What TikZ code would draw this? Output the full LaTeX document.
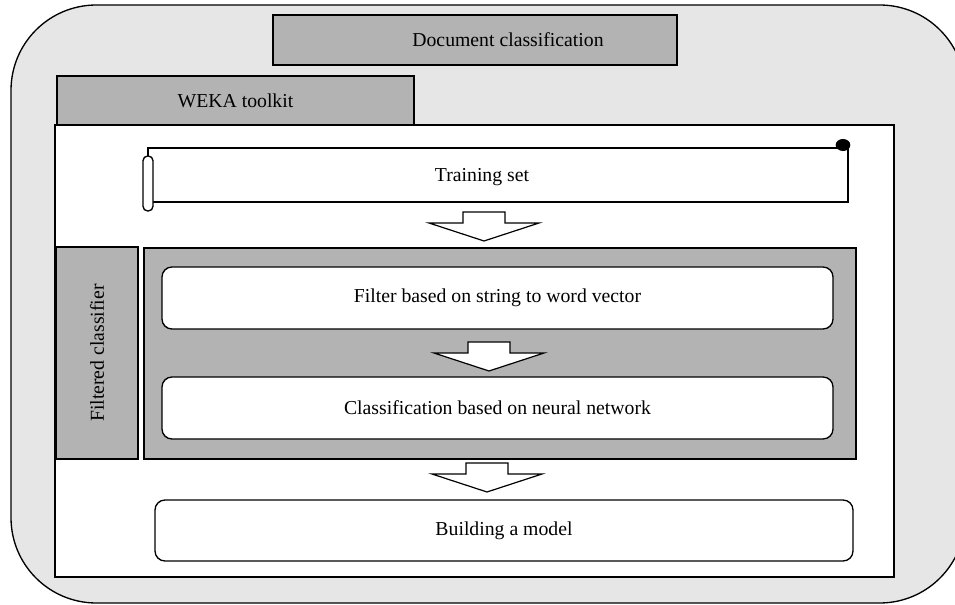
\documentclass[tikz,border=0pt]{standalone}
\usepackage{fontspec}
\setmainfont{Liberation Serif}
\usetikzlibrary{calc}
\definecolor{bggray}{HTML}{E6E6E6}
\definecolor{boxgray}{HTML}{B3B3B3}
\tikzset{
  greybox/.style={draw=black, line width=1pt, fill=boxgray, inner sep=0pt, font=\fontsize{14.8}{17}\selectfont},
  whitebox/.style={draw=black, line width=1pt, fill=white, rounded corners=7.5pt, inner sep=0pt, font=\fontsize{14.8}{17}\selectfont},
  plainbox/.style={draw=black, line width=1pt, fill=white, inner sep=0pt},
  lbl/.style={inner sep=0pt, font=\fontsize{14.8}{17}\selectfont},
  blockarrow/.pic={
    \draw[line width=0.9pt, fill=white, line join=miter]
      (-21,0) -- (21,0) -- (21,11) -- (55,11) -- (0,29) -- (-55,11) -- (-21,11) -- cycle;
  }
}
\begin{document}
\begin{tikzpicture}[x=0.75pt,y=-0.75pt]
\useasboundingbox (0,0) rectangle (955,605);
\clip (0,0) rectangle (955,605);
% outer rounded frame
\draw[line width=1pt, fill=bggray, rounded corners=64pt] (11,5) rectangle (965,603);
% top boxes
\node[greybox, minimum width=303pt, minimum height=37.5pt] (doc) at (475,40) {};
\node[lbl] (doclbl) at (508,40) {Document classification};
\node[greybox, minimum width=267.75pt, minimum height=36.75pt] (weka) at (235.5,100.5) {WEKA toolkit};
% main white panel
\node[plainbox, minimum width=629.25pt, minimum height=339pt] (panel) at (474.5,351) {};
% training set scroll
\draw[line width=1pt, fill=white] (148,156) -- (148,148) -- (848,148) -- (848,202) -- (150,202);
\draw[line width=1pt, fill=white, rounded corners=3.5pt] (143,156) rectangle (153,211);
\fill (843,145) ellipse [x radius=5.5pt, y radius=4.5pt];
\node[lbl] (train) at (482,177) {Training set};
% filtered classifier
\node[greybox, minimum width=61.5pt, minimum height=159pt] (filt) at (97,353) {};
\node[lbl, rotate=90] (filtlbl) at (97,353) {Filtered classifier};
\node[greybox, minimum width=534pt, minimum height=158.25pt] (inner) at (500,353.5) {};
\node[whitebox, minimum width=503.25pt, minimum height=46.5pt] (filter) at (497.5,298) {Filter based on string to word vector};
\node[whitebox, minimum width=503.25pt, minimum height=46.5pt] (classif) at (497.5,408) {Classification based on neural network};
\node[whitebox, minimum width=523.5pt, minimum height=45.75pt] (build) at (504,530.5) {Building a model};
% block arrows
\pic at (484,212) {blockarrow};
\pic at (489,342) {blockarrow};
\pic at (487,463) {blockarrow};
\end{tikzpicture}
\end{document}
